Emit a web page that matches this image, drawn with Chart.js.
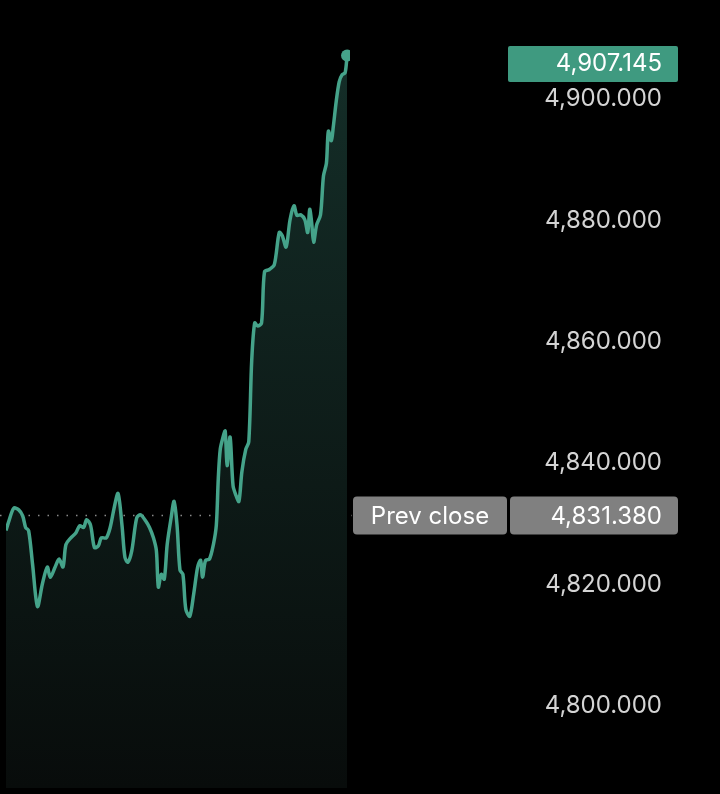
<!DOCTYPE html>
<html>
<head>
<meta charset="utf-8">
<script src="https://cdn.jsdelivr.net/npm/chart.js@4"></script>
<style>
  html, body { margin: 0; padding: 0; background: #000; }
  #wrap { width: 720px; height: 794px; }
</style>
</head>
<body>
<div id="wrap"><canvas id="chart"></canvas></div>
<script>
const times = [0,3,8,13,17,20,23,27,32,37,42,45,50,54,58,61,66,71,75,79,82,86,90,94,97,102,106,110,114,118,121,124,128,133,137,142,146,150,153,155,158,161,164,168,171,174,177,180,183,187,191,195,198,200,203,207,211,214,216,218,221,223,225,228,231,234,237,240,244,247,250,253,256,260,263,268,273,278,281,285,289,293,296,300,304,307,309,311,313,316,320,323,326,328,331,333,336,339,342,345,347];
const prices = [4828.9,4830.5,4832.6,4832.3,4831.3,4829.4,4828.9,4823.4,4816.4,4820.1,4822.9,4821.2,4822.9,4824.2,4822.9,4826.6,4827.7,4828.5,4829.7,4829.4,4830.7,4829.8,4826.1,4826.4,4827.7,4827.7,4829.4,4832.6,4835.0,4829.8,4824.5,4823.7,4825.6,4831.0,4831.5,4830.5,4829.4,4827.7,4825.6,4819.6,4821.7,4820.9,4826.6,4831.0,4833.7,4829.8,4822.4,4821.7,4815.9,4814.8,4818.5,4822.9,4824.0,4821.2,4824.0,4824.2,4826.6,4829.8,4837.5,4842.3,4844.4,4845.3,4839.6,4844.3,4836.3,4834.7,4833.7,4838.6,4842.3,4843.5,4856.9,4863.1,4862.6,4863.1,4871.5,4871.9,4872.7,4878.0,4877.5,4875.6,4880.1,4882.4,4880.8,4880.9,4880.1,4878.0,4881.8,4879.6,4876.4,4879.2,4880.9,4887.3,4889.4,4894.7,4893.1,4895.4,4899.6,4902.8,4904.0,4904.3,4907.145];
const yTicks = [4800, 4820, 4840, 4860, 4880, 4900];
const lastPrice = 4907.145;
const prevClose = 4831.38;

const fmt = v => v.toLocaleString("en-US", { minimumFractionDigits: 3, maximumFractionDigits: 3 });
const points = times.map((t, i) => ({ x: t, y: prices[i] }));
const FONT = "24px Inter, 'Noto Sans', sans-serif";

function roundBox(ctx, x, y, w, h, r, color) {
  ctx.fillStyle = color;
  ctx.beginPath();
  ctx.roundRect(x, y, w, h, r);
  ctx.fill();
}

const overlay = {
  id: "overlay",
  beforeDatasetsDraw(chart) {
    const ctx = chart.ctx, ys = chart.scales.y;
    const py = ys.getPixelForValue(prevClose);
    ctx.save();
    ctx.strokeStyle = "#8a8a8a";
    ctx.lineWidth = 1.5;
    ctx.setLineDash([1.5, 8]);
    ctx.beginPath();
    ctx.moveTo(0, py);
    ctx.lineTo(352, py);
    ctx.stroke();
    ctx.restore();
  },
  afterDraw(chart) {
    const ctx = chart.ctx, ys = chart.scales.y;
    ctx.save();
    ctx.font = FONT;
    ctx.textBaseline = "middle";
    ctx.textAlign = "right";
    ctx.fillStyle = "#d4d4d4";
    yTicks.forEach(v => ctx.fillText(fmt(v), 662, ys.getPixelForValue(v)));
    // prev close badges
    const py = ys.getPixelForValue(prevClose);
    roundBox(ctx, 353, py - 19, 154, 38, 4, "#808080");
    roundBox(ctx, 510, py - 19, 168, 38, 4, "#808080");
    ctx.fillStyle = "#fff";
    ctx.textAlign = "center";
    ctx.fillText("Prev close", 430, py + 1);
    ctx.textAlign = "right";
    ctx.fillText(fmt(prevClose), 662, py + 1);
    // last price badge
    roundBox(ctx, 508, 46, 170, 36, 2, "#3f9a80");
    ctx.fillStyle = "#fff";
    ctx.fillText(fmt(lastPrice), 662, 64);
    ctx.restore();
  }
};

new Chart(document.getElementById("chart"), {
  type: "line",
  data: {
    datasets: [{
      data: points,
      borderColor: "#45a38a",
      borderWidth: 3.5,
      tension: 0.3,
      pointRadius: points.map((p, i) => i === points.length - 1 ? 6 : 0),
      pointBackgroundColor: "#45a38a",
      pointBorderWidth: 0,
      fill: "start",
      backgroundColor: (c) => {
        const area = c.chart.chartArea;
        if (!area) return "#0f1d19";
        const g = c.chart.ctx.createLinearGradient(0, area.top, 0, area.bottom);
        g.addColorStop(0, "#15302a");
        g.addColorStop(1, "#080c0b");
        return g;
      }
    }]
  },
  options: {
    responsive: true,
    maintainAspectRatio: false,
    animation: false,
    layout: { padding: 0 },
    plugins: { legend: { display: false }, tooltip: { enabled: false } },
    scales: {
      x: { type: "linear", min: 0, max: 350, display: false },
      y: {
        position: "right", min: 4786.5, max: 4915.3,
        grid: { display: false }, border: { display: false },
        ticks: { display: false },
        afterFit(s) { s.width = 370; }
      }
    }
  },
  plugins: [overlay]
});
</script>
</body>
</html>
